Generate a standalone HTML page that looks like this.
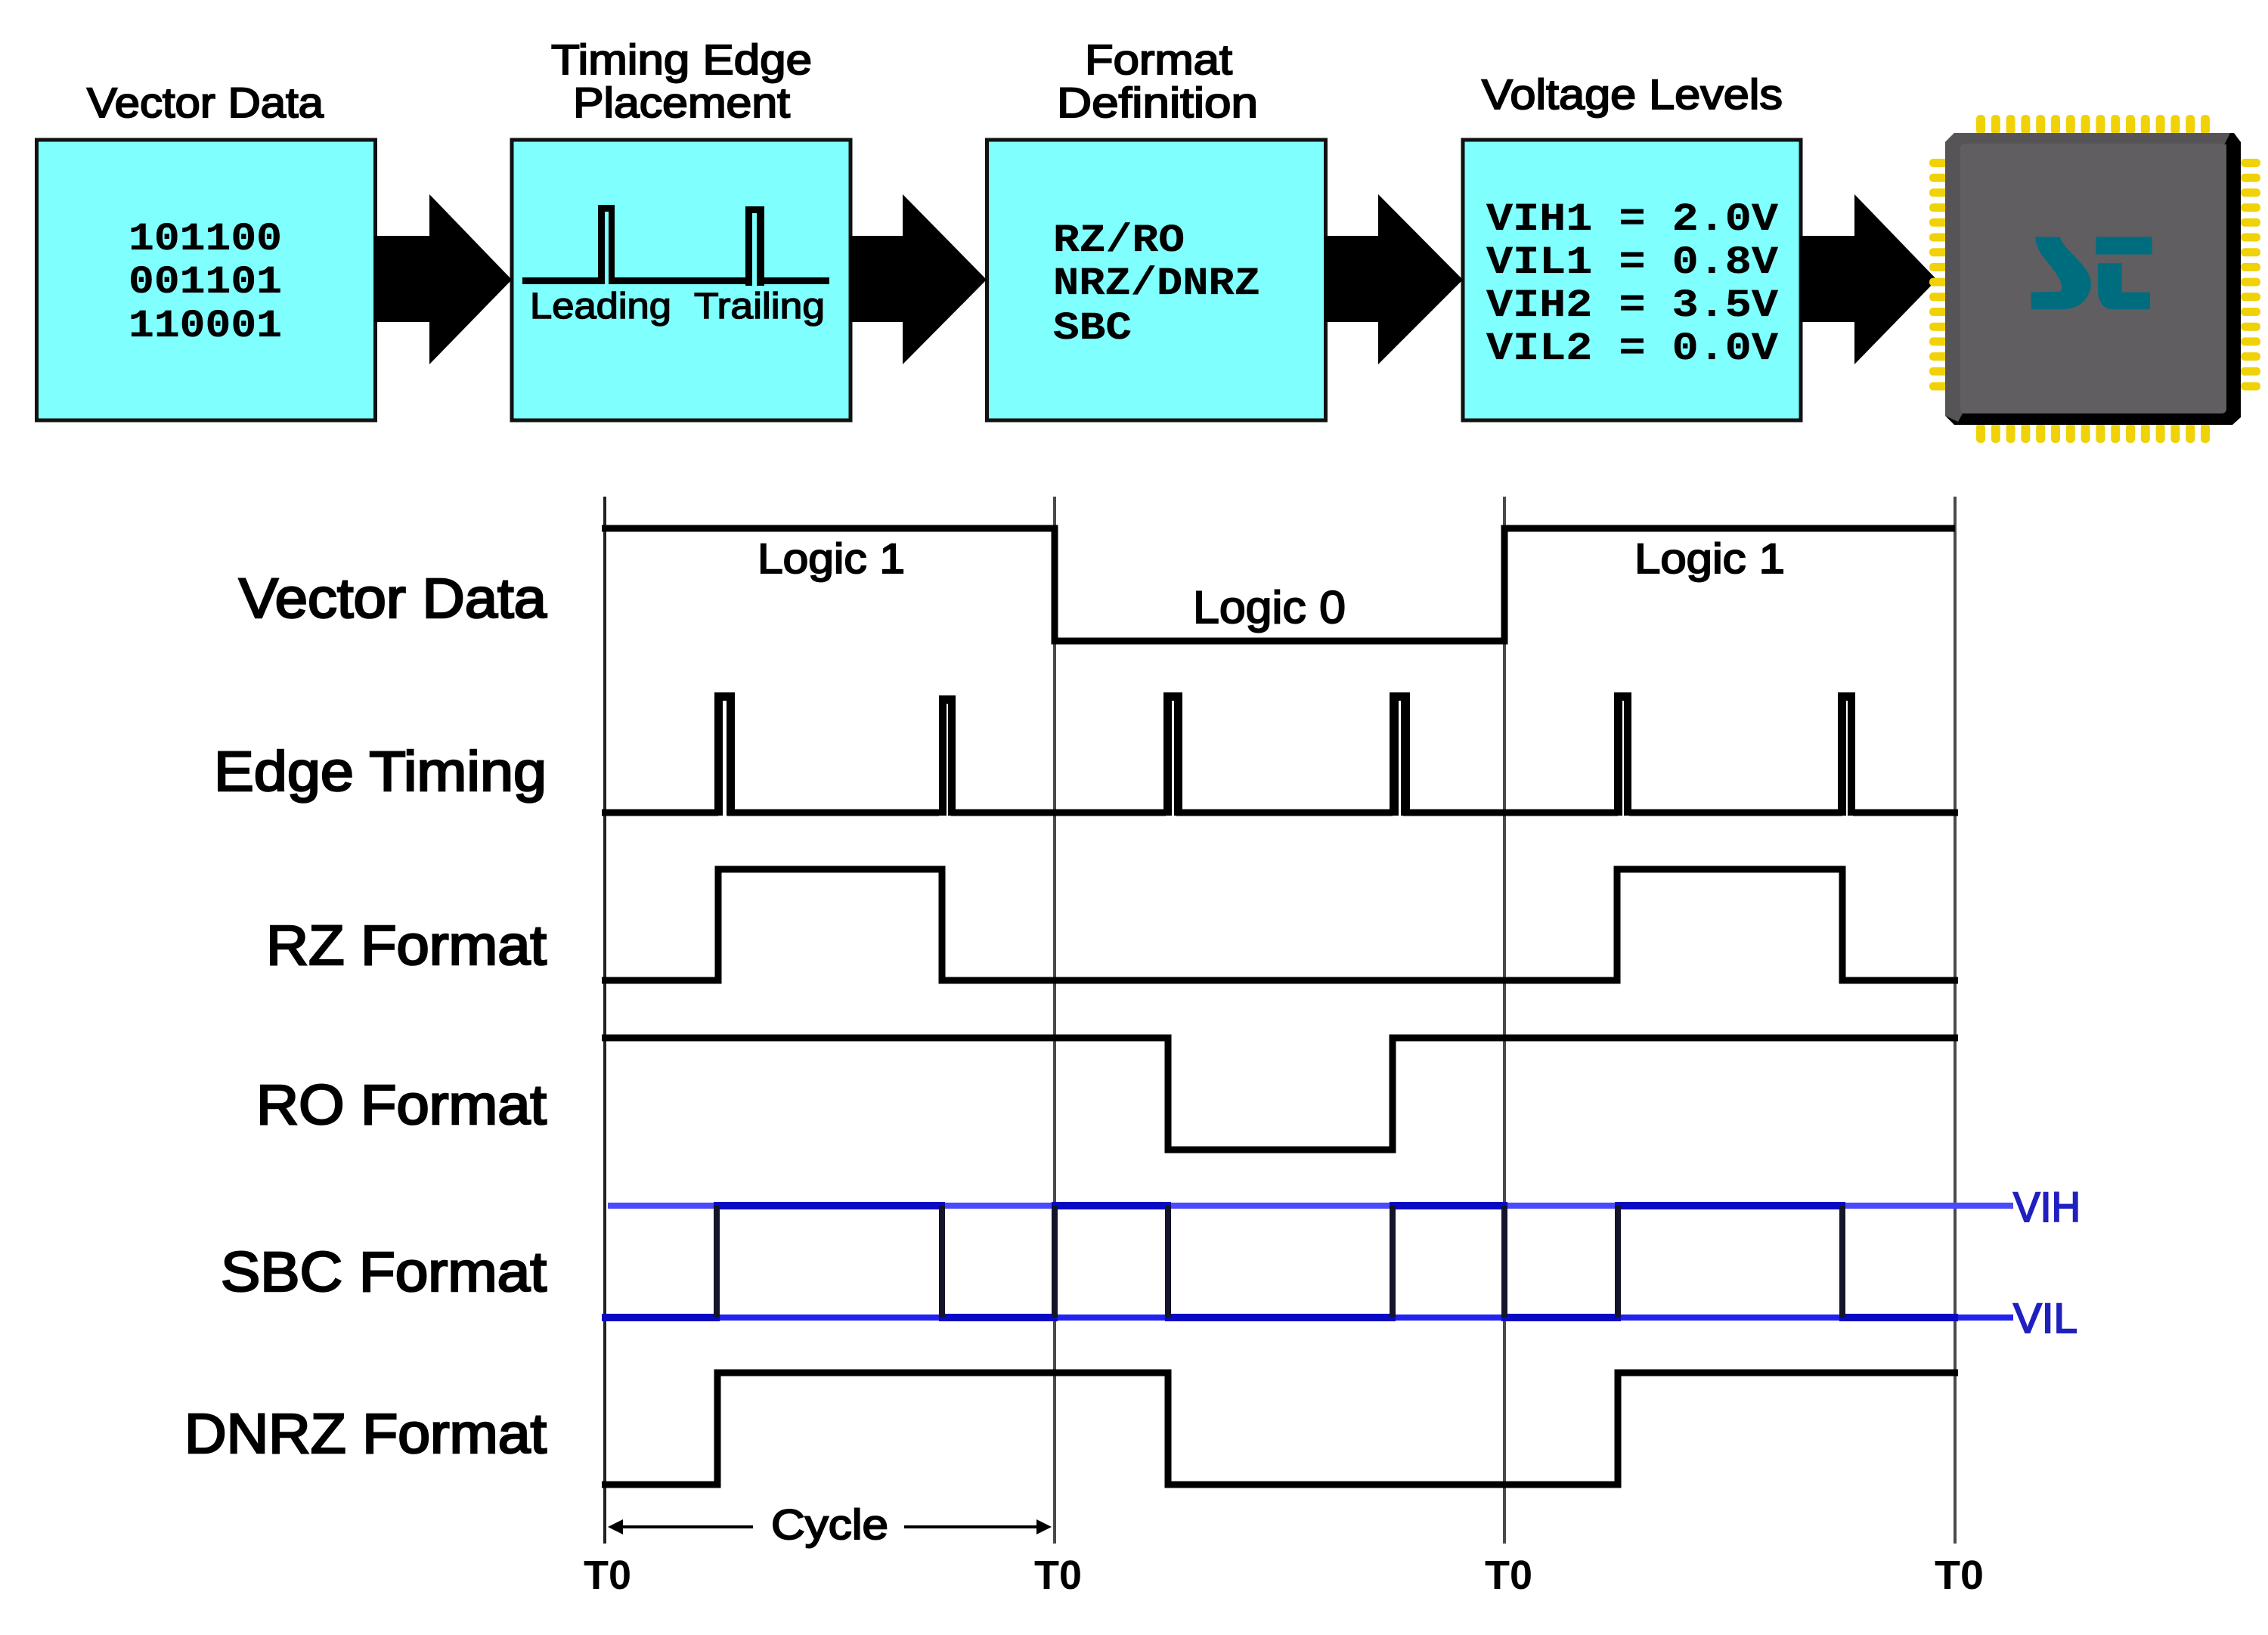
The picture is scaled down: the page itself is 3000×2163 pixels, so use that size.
<!DOCTYPE html>
<html lang="en"><head><meta charset="utf-8"><title>Timing diagram</title>
<style>
html,body{margin:0;padding:0;background:#fff}
svg{display:block}
text{font-family:"Liberation Sans",sans-serif;fill:#000}
.t{stroke:#000;stroke-width:2;font-size:56px}
.l{stroke:#000;stroke-width:2.6;font-size:74px}
.m{font-family:"Liberation Mono",monospace;font-weight:700;font-size:52px;stroke:#000;stroke-width:.3}
.sig{fill:none;stroke:#000;stroke-width:9;stroke-linejoin:miter;stroke-linecap:butt}
.grid{stroke:#4a4a4a;stroke-width:4}
</style></head><body>
<svg xmlns="http://www.w3.org/2000/svg" width="3000" height="2163" viewBox="0 0 3000 2163">
<rect width="3000" height="2163" fill="#fff"/>

<!-- Boxes -->
<g fill="#80ffff" stroke="#111" stroke-width="5">
<rect x="48.500" y="185" width="448" height="371"/>
<rect x="677" y="185" width="448" height="371"/>
<rect x="1305.500" y="185" width="448" height="371"/>
<rect x="1935" y="185" width="447" height="371"/>
</g>

<!-- Titles -->
<text class="t" x="115" y="155" textLength="313" lengthAdjust="spacingAndGlyphs">Vector Data</text>
<text class="t" x="729" y="98" textLength="345" lengthAdjust="spacingAndGlyphs">Timing Edge</text>
<text class="t" x="758" y="155" textLength="287" lengthAdjust="spacingAndGlyphs">Placement</text>
<text class="t" x="1435" y="98" textLength="195" lengthAdjust="spacingAndGlyphs">Format</text>
<text class="t" x="1398" y="155" textLength="266" lengthAdjust="spacingAndGlyphs">Definition</text>
<text class="t" x="1960" y="144" textLength="398" lengthAdjust="spacingAndGlyphs">Voltage Levels</text>

<!-- Box 1 -->
<text class="m" x="170" y="330" textLength="203" lengthAdjust="spacingAndGlyphs">101100</text>
<text class="m" x="170" y="387" textLength="203" lengthAdjust="spacingAndGlyphs">001101</text>
<text class="m" x="170" y="445" textLength="203" lengthAdjust="spacingAndGlyphs">110001</text>

<!-- Box 2 -->
<g fill="#000">
<rect x="691" y="367" width="406" height="9"/>
<rect x="791" y="271" width="22" height="105"/>
<rect x="986" y="273" width="25" height="105"/>
</g>
<rect x="800" y="280" width="5" height="96" fill="#80ffff"/>
<rect x="995" y="282" width="6" height="96" fill="#80ffff"/>
<text class="t" style="font-size:48px;stroke-width:1.5" x="701" y="421" textLength="187" lengthAdjust="spacingAndGlyphs">Leading</text>
<text class="t" style="font-size:48px;stroke-width:1.5" x="918" y="421" textLength="173" lengthAdjust="spacingAndGlyphs">Trailing</text>

<!-- Box 3 -->
<text class="m" x="1393" y="332" textLength="174" lengthAdjust="spacingAndGlyphs">RZ/RO</text>
<text class="m" x="1393" y="389" textLength="274" lengthAdjust="spacingAndGlyphs">NRZ/DNRZ</text>
<text class="m" x="1393" y="448" textLength="104" lengthAdjust="spacingAndGlyphs">SBC</text>

<!-- Box 4 -->
<text class="m" x="1966" y="304" textLength="386" lengthAdjust="spacingAndGlyphs">VIH1 = 2.0V</text>
<text class="m" x="1966" y="361" textLength="386" lengthAdjust="spacingAndGlyphs">VIL1 = 0.8V</text>
<text class="m" x="1966" y="418" textLength="386" lengthAdjust="spacingAndGlyphs">VIH2 = 3.5V</text>
<text class="m" x="1966" y="475" textLength="386" lengthAdjust="spacingAndGlyphs">VIL2 = 0.0V</text>

<!-- Block arrows -->
<g fill="#000">
<polygon points="495,312 568,312 568,257 677,370 568,482 568,426 495,426"/>
<polygon points="1124,312 1194,312 1194,257 1305,370 1194,482 1194,426 1124,426"/>
<polygon points="1752,312 1823,312 1823,257 1935,370 1823,482 1823,426 1752,426"/>
<polygon points="2381,312 2453,312 2453,257 2562,370 2453,482 2453,426 2381,426"/>
</g>

<!-- Chip pins -->
<defs>
<g id="hp"><rect x="0" width="12" height="26" rx="5"/><rect x="19.800" width="12" height="26" rx="5"/><rect x="39.600" width="12" height="26" rx="5"/><rect x="59.400" width="12" height="26" rx="5"/><rect x="79.200" width="12" height="26" rx="5"/><rect x="99" width="12" height="26" rx="5"/><rect x="118.800" width="12" height="26" rx="5"/><rect x="138.600" width="12" height="26" rx="5"/><rect x="158.400" width="12" height="26" rx="5"/><rect x="178.200" width="12" height="26" rx="5"/><rect x="198" width="12" height="26" rx="5"/><rect x="217.800" width="12" height="26" rx="5"/><rect x="237.600" width="12" height="26" rx="5"/><rect x="257.400" width="12" height="26" rx="5"/><rect x="277.200" width="12" height="26" rx="5"/><rect x="297" width="12" height="26" rx="5"/></g>
<g id="vp"><rect y="0" width="26" height="11" rx="5"/><rect y="19.700" width="26" height="11" rx="5"/><rect y="39.400" width="26" height="11" rx="5"/><rect y="59.100" width="26" height="11" rx="5"/><rect y="78.800" width="26" height="11" rx="5"/><rect y="98.500" width="26" height="11" rx="5"/><rect y="118.200" width="26" height="11" rx="5"/><rect y="137.900" width="26" height="11" rx="5"/><rect y="157.600" width="26" height="11" rx="5"/><rect y="177.300" width="26" height="11" rx="5"/><rect y="197" width="26" height="11" rx="5"/><rect y="216.700" width="26" height="11" rx="5"/><rect y="236.400" width="26" height="11" rx="5"/><rect y="256.100" width="26" height="11" rx="5"/><rect y="275.800" width="26" height="11" rx="5"/><rect y="295.500" width="26" height="11" rx="5"/></g>
</defs>
<g fill="#f0d208">
<use href="#hp" x="2614" y="152"/>
<use href="#hp" x="2614" y="560"/>
<use href="#vp" x="2552" y="210"/>
<use href="#vp" x="2964" y="210"/>
</g>

<!-- Chip body -->
<polygon points="2585,176 2955,176 2964,188 2964,552 2953,562 2585,562 2573,550 2573,188" fill="#000"/>
<polygon points="2585,176 2950,176 2942,192 2945,190 2945,540 2938,547 2596,547 2590,558 2573,550 2573,188" fill="#565456"/>
<rect x="2593" y="190" width="352" height="357" rx="6" fill="#605e61"/>
<g transform="translate(2540,130) scale(.3333)" fill="#006d7f">
<path d="M458 550 L555 550 C570 610 680 660 678 740 C670 810 620 838 560 838 L440 838 L440 770 L555 768 C580 740 530 680 480 620 C465 590 455 570 458 550Z"/>
<rect x="697" y="550" width="223" height="70"/>
<path d="M705 655 L800 655 L800 770 L912 770 L912 838 L760 838 C720 835 705 800 705 760Z"/>
</g>

<!-- Grid -->
<line class="grid" x1="800" y1="657" x2="800" y2="2042" style="stroke:#222"/>
<line class="grid" x1="1395" y1="657" x2="1395" y2="2042"/>
<line class="grid" x1="1990" y1="657" x2="1990" y2="2042"/>
<line class="grid" x1="2586" y1="657" x2="2586" y2="2042"/>

<!-- Signal labels -->
<text class="l" x="316" y="817" textLength="407" lengthAdjust="spacingAndGlyphs">Vector Data</text>
<text class="l" x="283" y="1046" textLength="440" lengthAdjust="spacingAndGlyphs">Edge Timing</text>
<text class="l" x="352" y="1276" textLength="371" lengthAdjust="spacingAndGlyphs">RZ Format</text>
<text class="l" x="339" y="1487" textLength="384" lengthAdjust="spacingAndGlyphs">RO Format</text>
<text class="l" x="292" y="1708" textLength="431" lengthAdjust="spacingAndGlyphs">SBC Format</text>
<text class="l" x="244" y="1922" textLength="479" lengthAdjust="spacingAndGlyphs">DNRZ Format</text>

<text class="t" x="1002" y="758" textLength="195" lengthAdjust="spacingAndGlyphs">Logic 1</text>
<text class="t" style="font-size:60px" x="1578" y="824" textLength="202" lengthAdjust="spacingAndGlyphs">Logic 0</text>
<text class="t" x="2162" y="758" textLength="199" lengthAdjust="spacingAndGlyphs">Logic 1</text>

<!-- Vector data -->
<path class="sig" d="M796 699 H1395 V848 H1990 V699 H2586"/>

<!-- Edge timing -->
<path class="sig" d="M796 1075 H950"/>
<path class="sig" d="M962 1075 H1242"/>
<path class="sig" d="M1258 1075 H1542"/>
<path class="sig" d="M1556 1075 H1842"/>
<path class="sig" d="M1856 1075 H2140"/>
<path class="sig" d="M2155 1075 H2437"/>
<path class="sig" d="M2451 1075 H2590"/>
<g fill="#000">
<path d="M945 916H972V1079H961V927H956V1079H945Z"/>
<path d="M1242 920H1264V1079H1254V931H1252V1079H1242Z"/>
<path d="M1539 916H1564V1079H1553V927H1550V1079H1539Z"/>
<path d="M1838 916H1865V1079H1853V927H1850V1079H1838Z"/>
<path d="M2135 916H2158V1079H2148V927H2146V1079H2135Z"/>
<path d="M2431 916H2454V1079H2444V927H2442V1079H2431Z"/>
</g>

<!-- RZ -->
<path class="sig" d="M796 1297 H950 V1150 H1246 V1297 H2139 V1150 H2437 V1297 H2590"/>
<!-- RO -->
<path class="sig" d="M796 1373 H1545 V1521 H1842 V1373 H2590"/>

<!-- SBC: levels -->
<line x1="804" y1="1595" x2="2663" y2="1595" stroke="#4a4aff" stroke-width="8"/>
<line x1="804" y1="1743" x2="2663" y2="1743" stroke="#2222ee" stroke-width="8"/>
<g stroke="#0a0ac4" stroke-width="10" fill="none">
<path d="M944 1595H1250M1391 1595H1549M1838 1595H1994M2136 1595H2441"/>
<path d="M796 1743H952M1242 1743H1399M1541 1743H1846M1986 1743H2144M2433 1743H2590"/>
</g>
<g stroke="#14142a" stroke-width="8">
<path d="M948 1595V1743M1246 1595V1743M1395 1595V1743M1545 1595V1743M1842 1595V1743M1990 1595V1743M2140 1595V1743M2437 1595V1743"/>
</g>
<text class="t" style="fill:#2020c0;stroke:#2020c0" x="2663" y="1616" textLength="89" lengthAdjust="spacingAndGlyphs">VIH</text>
<text class="t" style="fill:#2020c0;stroke:#2020c0" x="2663" y="1763" textLength="85" lengthAdjust="spacingAndGlyphs">VIL</text>

<!-- DNRZ -->
<path class="sig" d="M796 1964 H949 V1816 H1545 V1964 H2140 V1816 H2590"/>

<!-- Cycle -->
<g fill="#000">
<rect x="815" y="2018" width="181" height="4"/>
<rect x="1196" y="2018" width="178" height="4"/>
<polygon points="804,2020 824,2010 824,2030"/>
<polygon points="1391,2020 1371,2010 1371,2030"/>
</g>
<text class="t" x="1020" y="2036" textLength="155" lengthAdjust="spacingAndGlyphs">Cycle</text>

<!-- T0 -->
<g font-weight="700" font-size="54">
<text x="772" y="2102" textLength="63" lengthAdjust="spacingAndGlyphs">T0</text>
<text x="1368" y="2102" textLength="63" lengthAdjust="spacingAndGlyphs">T0</text>
<text x="1964" y="2102" textLength="63" lengthAdjust="spacingAndGlyphs">T0</text>
<text x="2559" y="2102" textLength="65" lengthAdjust="spacingAndGlyphs">T0</text>
</g>
</svg>
</body></html>
